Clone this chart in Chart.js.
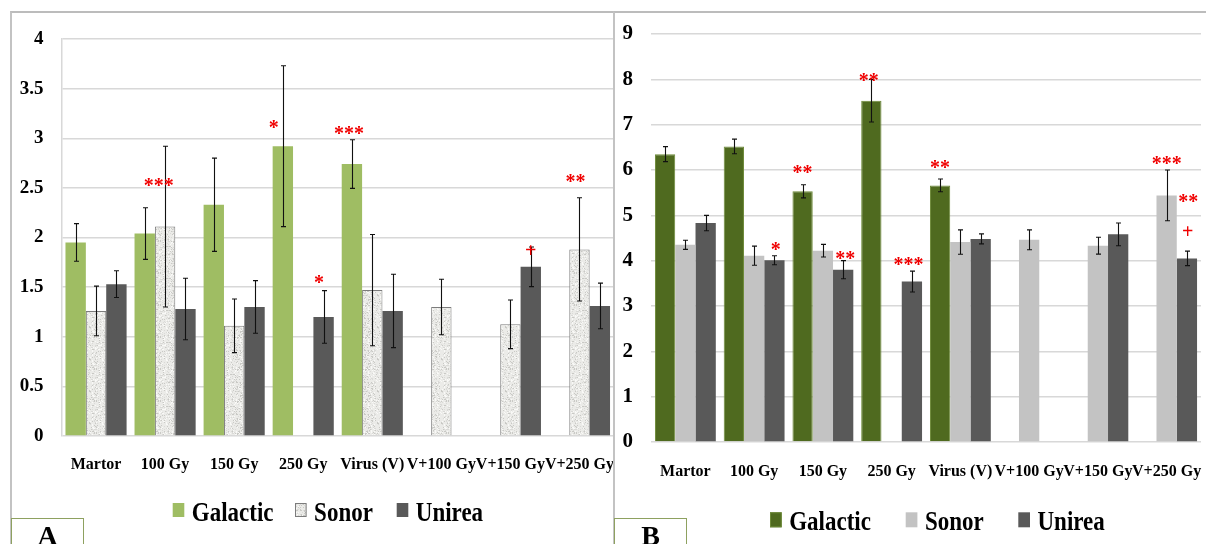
<!DOCTYPE html>
<html>
<head>
<meta charset="utf-8">
<script src="https://cdn.jsdelivr.net/npm/chart.js@4.4.1/dist/chart.umd.min.js"></script>
<style>
  html, body { margin: 0; padding: 0; background: #fff; }
  body { width: 1206px; height: 544px; position: relative; overflow: hidden; font-family: "Liberation Serif", serif; }
  .wrap { position: absolute; top: 0; height: 544px; }
  #wrapA { left: 0; width: 614px; }
  #wrapB { left: 614px; width: 592px; }
  .frame { position: absolute; top: 11px; height: 600px; border-left: 2px solid #c3c3c3; border-top: 2px solid #bcbcbc; pointer-events: none; }
  #frameA { left: 10px; width: 604px; }
  #frameB { left: 613px; width: 600px; }
  .tag { position: absolute; top: 518px; width: 71px; height: 60px; border: 1.5px solid #8ea160; background: #fff; }
  .tag span { position: absolute; left: 0; right: 0; top: 3px; text-align: center; font: bold 28px/28px "Liberation Serif", serif; color: #000; }
  #tagA { left: 11px; }
  #tagB { left: 614px; }
</style>
</head>
<body>
<div class="wrap" id="wrapA"><canvas id="chartA"></canvas></div>
<div class="wrap" id="wrapB"><canvas id="chartB"></canvas></div>
<div class="frame" id="frameA"></div>
<div class="frame" id="frameB"></div>
<div class="tag" id="tagA"><span>A</span></div>
<div class="tag" id="tagB"><span>B</span></div>
<script>
// Treatment groups on the x axis
const categories = ['Martor', '100 Gy', '150 Gy', '250 Gy', 'Virus (V)', 'V+100 Gy', 'V+150 Gy', 'V+250 Gy'];
const seriesNames = ['Galactic', 'Sonor', 'Unirea'];

// Panel A – means and standard errors
const galacticA    = [1.95, 2.04, 2.33, 2.92, 2.74, null, null, null];
const galacticErrA = [0.19, 0.26, 0.47, 0.81, 0.245, null, null, null];
const sonorA       = [1.26, 2.11, 1.11, null, 1.47, 1.30, 1.125, 1.88];
const sonorErrA    = [0.25, 0.81, 0.27, null, 0.56, 0.28, 0.245, 0.52];
const unireaA      = [1.53, 1.28, 1.30, 1.20, 1.26, null, 1.705, 1.31];
const unireaErrA   = [0.135, 0.31, 0.265, 0.265, 0.37, null, 0.20, 0.23];

// Panel B – means and standard errors
const galacticB    = [6.35, 6.52, 5.53, 7.53, 5.66, null, null, null];
const galacticErrB = [0.165, 0.16, 0.145, 0.47, 0.14, null, null, null];
const sonorB       = [4.35, 4.11, 4.22, null, 4.41, 4.46, 4.33, 5.44];
const sonorErrB    = [0.10, 0.21, 0.14, null, 0.27, 0.22, 0.185, 0.56];
const unireaB      = [4.83, 4.01, 3.80, 3.54, 4.48, null, 4.58, 4.05];
const unireaErrB   = [0.17, 0.10, 0.20, 0.23, 0.11, null, 0.25, 0.16];

// Significance marks (space separates stacked marks)
const sigGalacticA = ['', '***', '', '*', '***', '', '', ''];
const sigSonorA    = ['', '', '', '', '', '', '', '**'];
const sigUnireaA   = ['', '', '', '*', '', '', '+', ''];
const sigGalacticB = ['', '', '**', '**', '**', '', '', ''];
const sigSonorB    = ['', '', '', '', '', '', '', '***'];
const sigUnireaB   = ['', '*', '**', '***', '', '', '', '** +'];

// Y axis ranges
const yTicksA = { max: 4, step: 0.5 };
const yTicksB = { max: 9, step: 1 };

// Offsets of each significance mark from the top of its bar (dataset:index)
const markOffsetsA = {
  '0:1': [[14, -51.6]], '0:3': [[-9, -21.7]], '0:4': [[-3, -34.3]],
  '2:3': [[-4.5, -38.2]], '2:6': [[0, -15.7]],
  '1:7': [[-4, -71.6]]
};
const markOffsetsB = {
  '2:1': [[1.3, -14.3]], '0:2': [[0, -22]], '2:2': [[2, -14.3]],
  '0:3': [[-2.6, -23.4]], '2:3': [[-3.3, -20.7]], '0:4': [[0, -21.4]],
  '1:7': [[0, -34.7]], '2:7': [[1.3, -60.6], [0.8, -26.8]]
};

// Speckled fill for the Sonor bars of panel A (fixed integer hash, no randomness)
function speckle() {
  const n = 32;
  const c = document.createElement('canvas');
  c.width = n; c.height = n;
  const g = c.getContext('2d');
  g.fillStyle = '#ebebe8';
  g.fillRect(0, 0, n, n);
  for (let y = 0; y < n; y++) {
    for (let x = 0; x < n; x++) {
      let h = (x * 374761393 + y * 668265263) >>> 0;
      h = Math.imul(h ^ (h >>> 13), 1274126177) >>> 0;
      h = (h ^ (h >>> 16)) & 255;
      if (h < 28) { g.fillStyle = '#c9c9c5'; g.fillRect(x, y, 1, 1); }
      else if (h < 60) { g.fillStyle = '#dadad7'; g.fillRect(x, y, 1, 1); }
      else if (h > 225) { g.fillStyle = '#f9f9f7'; g.fillRect(x, y, 1, 1); }
    }
  }
  return g.createPattern(c, 'repeat');
}

// Vertical error bars with short caps
const errorBars = {
  id: 'errorBars',
  afterDatasetsDraw(chart, args, opts) {
    const ctx = chart.ctx, ys = chart.scales.y;
    chart.data.datasets.forEach((ds, di) => {
      const meta = chart.getDatasetMeta(di);
      meta.data.forEach((bar, i) => {
        const v = ds.data[i], e = ds.errors ? ds.errors[i] : null;
        if (v == null || e == null) return;
        const x = Math.round(bar.x) + 0.5;
        const t = ys.getPixelForValue(v + e), b = ys.getPixelForValue(v - e);
        ctx.save();
        ctx.strokeStyle = opts.color;
        ctx.lineWidth = opts.width;
        ctx.beginPath();
        ctx.moveTo(x, t); ctx.lineTo(x, b);
        ctx.moveTo(x - opts.cap, t); ctx.lineTo(x + opts.cap, t);
        ctx.moveTo(x - opts.cap, b); ctx.lineTo(x + opts.cap, b);
        ctx.stroke();
        ctx.restore();
      });
    });
  }
};

// Red significance marks above the bars
const sigMarks = {
  id: 'sigMarks',
  afterDatasetsDraw(chart, args, opts) {
    const ctx = chart.ctx;
    chart.data.datasets.forEach((ds, di) => {
      const meta = chart.getDatasetMeta(di);
      (ds.marks || []).forEach((m, i) => {
        if (!m) return;
        const bar = meta.data[i];
        const offs = opts.offsets[di + ':' + i] || [[0, -20]];
        m.split(' ').forEach((tok, k) => {
          const [dx, dy] = offs[k] || offs[0];
          const size = opts.size;
          ctx.save();
          ctx.font = 'bold ' + size + 'px "Liberation Serif"';
          ctx.fillStyle = opts.color;
          ctx.textAlign = 'center';
          ctx.textBaseline = 'alphabetic';
          const lift = tok === '+' ? 0.30 : 0.49;
          ctx.fillText(tok, bar.x + dx, bar.y + dy + lift * size);
          ctx.restore();
        });
      });
    });
  }
};

// Legend row under each panel
const panelLegend = {
  id: 'panelLegend',
  afterDraw(chart, args, opts) {
    const ctx = chart.ctx;
    chart.data.datasets.forEach((ds, di) => {
      const x = opts.xs[di];
      ctx.save();
      ctx.fillStyle = ds.backgroundColor;
      ctx.fillRect(x, opts.boxTop, opts.boxW, opts.boxH);
      if (ds.borderWidth) {
        ctx.strokeStyle = ds.borderColor;
        ctx.lineWidth = 1;
        ctx.strokeRect(x + 0.5, opts.boxTop + 0.5, opts.boxW - 1, opts.boxH - 1);
      }
      ctx.fillStyle = '#000';
      ctx.font = 'bold ' + opts.size + 'px "Liberation Serif"';
      ctx.textBaseline = 'alphabetic';
      ctx.textAlign = 'left';
      ctx.translate(x + opts.boxW + opts.gap, opts.baseline);
      ctx.scale(1, opts.stretch);
      ctx.fillText(ds.label, 0, 0);
      ctx.restore();
    });
  }
};

function makeChart(id, cfg) {
  const datasets = cfg.series.map((s, k) => Object.assign({
    label: seriesNames[k],
    data: s.values,
    errors: s.errors,
    marks: s.marks,
    borderWidth: 0
  }, s.style));
  return new Chart(document.getElementById(id), {
    type: 'bar',
    data: { labels: categories, datasets },
    options: {
      responsive: true,
      maintainAspectRatio: false,
      animation: false,
      events: [],
      layout: { padding: { top: cfg.padTop, right: cfg.padRight, left: 0, bottom: 0 } },
      datasets: { bar: { categoryPercentage: 0.885, barPercentage: 1 } },
      plugins: {
        legend: { display: false },
        tooltip: { enabled: false },
        errorBars: { color: '#111', width: 1.1, cap: 2.5 },
        sigMarks: { color: '#f00000', size: 20, offsets: cfg.offsets },
        panelLegend: cfg.legend
      },
      scales: {
        x: {
          grid: { display: false, drawTicks: false },
          border: { display: false },
          ticks: {
            color: '#000',
            font: { family: 'Liberation Serif', weight: 'bold', size: 16 },
            padding: cfg.xPad,
            autoSkip: false, maxRotation: 0, minRotation: 0
          },
          afterFit(s) { s.height = cfg.xHeight; s.paddingLeft = 0; s.paddingRight = 0; }
        },
        y: {
          min: 0, max: cfg.yRange.max,
          ticks: {
            stepSize: cfg.yRange.step,
            color: '#000',
            font: { family: 'Liberation Serif', weight: 'bold', size: cfg.ySize },
            padding: 18,
            callback: (v) => String(Math.round(v * 10) / 10)
          },
          grid: { color: '#d8d8d8', lineWidth: 1.5, drawTicks: false },
          border: { display: cfg.yBorder, color: '#d8d8d8', width: 1.5 },
          afterFit(s) { s.width = cfg.yWidth; s.paddingTop = 0; s.paddingBottom = 0; }
        }
      }
    },
    plugins: [errorBars, sigMarks, panelLegend]
  });
}

makeChart('chartA', {
  series: [
    { values: galacticA, errors: galacticErrA, marks: sigGalacticA, style: { backgroundColor: '#9fbd63' } },
    { values: sonorA, errors: sonorErrA, marks: sigSonorA, style: { backgroundColor: speckle(), borderColor: '#7c7c7c', borderWidth: 1 } },
    { values: unireaA, errors: unireaErrA, marks: sigUnireaA, style: { backgroundColor: '#595959' } }
  ],
  yRange: yTicksA, ySize: 19, yWidth: 61.5, yBorder: true,
  padTop: 39, padRight: 0, xHeight: 108, xPad: 19,
  offsets: markOffsetsA,
  legend: { xs: [172.7, 295, 396.7], boxTop: 503, boxW: 11.6, boxH: 14, gap: 7.5, baseline: 520.7, size: 23, stretch: 1.2 }
});

makeChart('chartB', {
  series: [
    { values: galacticB, errors: galacticErrB, marks: sigGalacticB, style: { backgroundColor: '#4f6a1f', borderColor: '#6d8a38', borderWidth: 1 } },
    { values: sonorB, errors: sonorErrB, marks: sigSonorB, style: { backgroundColor: '#c3c3c3' } },
    { values: unireaB, errors: unireaErrB, marks: sigUnireaB, style: { backgroundColor: '#595959' } }
  ],
  yRange: yTicksB, ySize: 21, yWidth: 37, yBorder: false,
  padTop: 34, padRight: 5, xHeight: 102, xPad: 20,
  offsets: markOffsetsB,
  legend: { xs: [156, 291.7, 404.3], boxTop: 512.3, boxW: 11.7, boxH: 15, gap: 7.5, baseline: 530, size: 23, stretch: 1.2 }
});
</script>
</body>
</html>
